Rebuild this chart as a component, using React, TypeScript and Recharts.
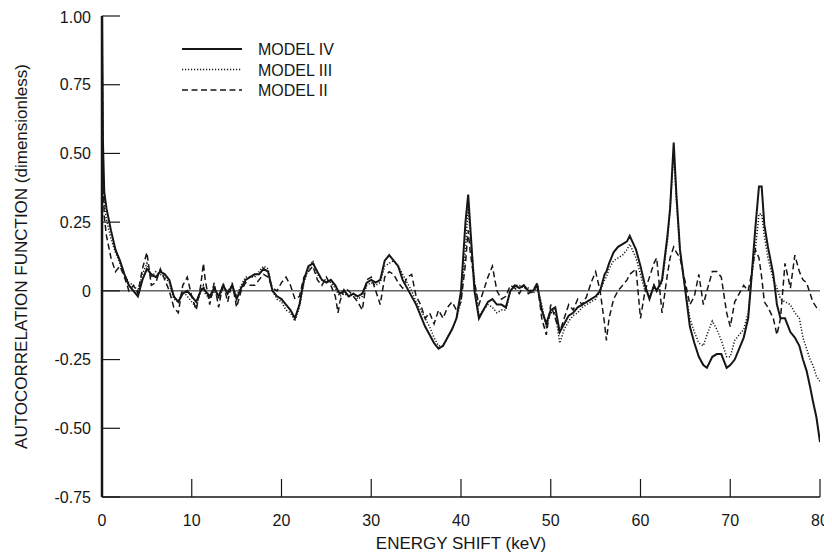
import React from "react";
import { LineChart, Line, XAxis, YAxis, ReferenceLine } from "recharts";

// ---- data ----
const energy = [
  0, 0.1, 0.25, 0.5, 1, 1.5, 2, 2.5, 3, 3.5, 4, 4.5, 5, 5.5, 6, 6.5, 7, 7.5, 8, 8.5, 9, 9.5,
  10, 10.5, 11, 11.3, 11.5, 12, 12.5, 13, 13.5, 14, 14.5, 15, 15.5, 16, 16.5, 17, 17.5, 18, 18.5, 19, 19.5,
  20, 20.5, 21, 21.5, 22, 22.5, 23, 23.5, 24, 24.5, 25, 25.5, 26, 26.3, 26.5, 27, 27.5, 28, 28.5, 29, 29.5,
  30, 30.5, 31, 31.5, 32, 32.5, 33, 33.5, 34, 34.5, 35, 35.5, 36, 36.5, 37, 37.5, 38, 38.5, 39, 39.5,
  40, 40.5, 40.8, 41, 41.5, 42, 42.5, 43, 43.5, 44, 44.5, 45, 45.5, 46, 46.5, 47, 47.5, 48, 48.5, 49, 49.5,
  50, 50.5, 51, 51.5, 52, 52.5, 53, 53.5, 54, 54.5, 55, 55.5, 56, 56.2, 56.5, 57, 57.5, 58, 58.5, 58.8, 59.5,
  60, 60.5, 61, 61.5, 61.8, 62.4, 63, 63.3, 63.7, 64, 64.4, 65, 65.5, 66, 66.5, 67, 67.4, 68, 68.5, 69, 69.6,
  70, 70.5, 71, 71.5, 72, 72.3, 72.8, 73.2, 73.5, 73.8, 74.2, 74.8, 75.2, 75.6, 76.1, 76.7, 77.2, 77.7, 78.1,
  78.5, 78.9, 79.2, 79.6, 80,
];

const modelIV = [
  1.0, 0.55, 0.36, 0.3, 0.22, 0.15, 0.11, 0.06, 0.02, 0.0, -0.02, 0.04, 0.08, 0.06, 0.05, 0.07, 0.06, 0.04, -0.02, -0.04, -0.01, 0.0,
  -0.02, -0.04, 0.0, 0.01, 0.0, -0.02, 0.01, -0.02, 0.02, -0.01, 0.02, -0.03, 0.01, 0.04, 0.05, 0.06, 0.06, 0.08, 0.07, 0.0, -0.02,
  -0.03, -0.05, -0.07, -0.1, -0.05, 0.04, 0.09, 0.1, 0.07, 0.04, 0.03, 0.04, 0.02, 0.0, -0.01, 0.0, -0.02, -0.01, -0.02, -0.01, 0.03,
  0.04, 0.03, 0.04, 0.11, 0.13, 0.11, 0.09, 0.04, 0.01, -0.02, -0.05, -0.09, -0.13, -0.16, -0.19, -0.21, -0.2, -0.17, -0.14, -0.1,
  0.0, 0.25, 0.35, 0.25, 0.0, -0.1, -0.07, -0.04, -0.03, -0.05, -0.05, -0.06, 0.0, 0.02, 0.01, 0.02, 0.0, 0.0, 0.02, -0.07, -0.12,
  -0.07, -0.06, -0.15, -0.12, -0.09, -0.08, -0.06, -0.05, -0.04, -0.03, -0.02, 0.0, 0.06, 0.07, 0.1, 0.14, 0.16, 0.17, 0.18, 0.2, 0.15,
  0.09, 0.02, -0.03, 0.02, 0.0, 0.04, 0.2, 0.3, 0.54, 0.35, 0.15, 0.0, -0.13, -0.19, -0.24, -0.27, -0.28, -0.24, -0.23, -0.23, -0.28,
  -0.27, -0.25, -0.21, -0.17, -0.1, 0.02, 0.23, 0.38, 0.38, 0.24, 0.16, 0.06, -0.05, -0.1, -0.1, -0.15, -0.17, -0.2, -0.25,
  -0.29, -0.35, -0.4, -0.46, -0.55,
];

const modelIII = [
  1.0, 0.5, 0.31, 0.26, 0.19, 0.14, 0.1, 0.06, 0.03, 0.02, 0.0, 0.06, 0.1, 0.05, 0.07, 0.06, 0.05, 0.03, -0.03, -0.04, 0.0, -0.02,
  -0.04, -0.06, 0.0, 0.02, -0.01, -0.03, 0.0, -0.03, 0.01, 0.0, 0.02, -0.02, 0.02, 0.05, 0.05, 0.05, 0.07, 0.09, 0.08, 0.0, -0.03,
  -0.04, -0.07, -0.08, -0.11, -0.06, 0.03, 0.08, 0.11, 0.06, 0.04, 0.04, 0.03, 0.01, -0.01, -0.02, -0.01, -0.02, -0.01, -0.03, -0.02, 0.02,
  0.03, 0.02, 0.03, 0.09, 0.1, 0.11, 0.09, 0.06, 0.03, 0.0, -0.04, -0.07, -0.1, -0.13, -0.17, -0.2, -0.2, -0.17, -0.14, -0.1,
  -0.04, 0.16, 0.3, 0.22, 0.04, -0.09, -0.07, -0.05, -0.06, -0.08, -0.07, -0.07, 0.0, 0.02, 0.02, 0.01, 0.01, -0.01, 0.01, -0.05, -0.13,
  -0.08, -0.08, -0.19, -0.14, -0.11, -0.09, -0.08, -0.06, -0.05, -0.04, -0.03, 0.0, 0.04, 0.05, 0.08, 0.11, 0.12, 0.13, 0.15, 0.17, 0.12,
  0.06, 0.0, -0.02, 0.02, 0.0, 0.03, 0.18, 0.3, 0.5, 0.33, 0.14, 0.0, -0.1, -0.15, -0.19, -0.2, -0.16, -0.11, -0.14, -0.18, -0.24,
  -0.24, -0.18, -0.16, -0.14, -0.08, 0.03, 0.15, 0.28, 0.28, 0.2, 0.12, 0.04, 0.01, -0.03, -0.04, -0.05, -0.08, -0.1, -0.17,
  -0.21, -0.25, -0.27, -0.31, -0.33,
];

const modelII = [
  1.0, 0.45, 0.27, 0.2, 0.12, 0.07, 0.09, 0.05, 0.0, 0.02, -0.01, 0.08, 0.14, 0.02, 0.03, 0.08, 0.04, 0.0, -0.06, -0.08, 0.02, 0.05,
  -0.02, -0.07, 0.02, 0.1, 0.04, -0.05, 0.03, -0.06, 0.03, -0.04, 0.03, -0.06, 0.0, 0.03, 0.02, 0.02, 0.04, 0.06, 0.05, 0.01, 0.0,
  0.03, 0.05, 0.02, -0.03, -0.02, 0.05, 0.07, 0.09, 0.04, 0.02, 0.05, 0.02, -0.02, -0.08, -0.04, 0.01, 0.0, -0.02, -0.04, -0.07, 0.04,
  0.05, 0.0, -0.05, 0.05, 0.07, 0.06, 0.03, 0.01, 0.05, 0.06, -0.02, -0.05, -0.1, -0.08, -0.12, -0.07, -0.1, -0.06, -0.04, -0.07,
  -0.04, 0.1, 0.22, 0.15, 0.03, -0.05, 0.0, 0.05, 0.09, 0.0, -0.03, -0.02, 0.02, 0.01, -0.01, 0.02, -0.01, 0.0, 0.03, -0.1, -0.16,
  -0.05, -0.1, -0.15, -0.1, -0.05, -0.07, -0.03, -0.05, -0.02, 0.03, 0.07, 0.0, -0.12, -0.18, -0.1, -0.03, 0.0, 0.02, 0.04, 0.06, 0.08,
  -0.1, 0.0, 0.05, 0.1, 0.12, -0.08, 0.06, 0.12, 0.16, 0.14, 0.12, 0.03, -0.05, -0.02, 0.06, -0.05, 0.0, 0.07, 0.07, 0.05, -0.08,
  -0.13, -0.04, -0.01, 0.02, 0.0, 0.05, 0.15, 0.12, 0.05, -0.04, -0.06, -0.1, -0.16, -0.1, 0.1, 0.01, 0.13, 0.07, 0.04,
  0.03, -0.01, -0.04, -0.06, -0.07,
];

const xTicks = [0, 10, 20, 30, 40, 50, 60, 70, 80];
const yTicks = [-0.75, -0.5, -0.25, 0, 0.25, 0.5, 0.75, 1.0];
const yTickLabels = ["-0.75", "-0.50", "-0.25", "0", "0.25", "0.50", "0.75", "1.00"];

const seriesNames = ["MODEL IV", "MODEL III", "MODEL II"];
const xTitle = "ENERGY SHIFT (keV)";
const yTitle = "AUTOCORRELATION FUNCTION (dimensionless)";

const data = energy.map((x, i) => ({
  x,
  iv: modelIV[i],
  iii: modelIII[i],
  ii: modelII[i],
}));

const FONT = "'Liberation Sans', Arial, Helvetica, sans-serif";
const INK = "#161616";

const seriesStyle = [
  { key: "iv", width: 2, dash: undefined as string | undefined },
  { key: "iii", width: 1.5, dash: "1.2 1.8" },
  { key: "ii", width: 1.5, dash: "6 3.5" },
];

const YTitle = (props: any) => {
  const vb = props.viewBox || { x: 0, y: 0, width: 0, height: 0 };
  const cx = vb.x + 13;
  const cy = vb.y + vb.height / 2;
  return (
    <text
      x={cx}
      y={cy}
      transform={`rotate(-90, ${cx}, ${cy})`}
      textAnchor="middle"
      dominantBaseline="central"
      fontFamily={FONT}
      fontSize={17}
      fill={INK}
    >
      {yTitle}
    </text>
  );
};

const XTitle = (props: any) => {
  const vb = props.viewBox || { x: 0, y: 0, width: 0, height: 0 };
  return (
    <text
      x={vb.x + vb.width / 2}
      y={vb.y + 52}
      textAnchor="middle"
      fontFamily={FONT}
      fontSize={17}
      fill={INK}
    >
      {xTitle}
    </text>
  );
};

const LegendBox = () => (
  <svg
    width={200}
    height={80}
    style={{ position: "absolute", left: 166, top: 22, overflow: "visible" }}
  >
    {seriesNames.map((name, i) => {
      const cy = 19 + i * 20.5;
      const s = seriesStyle[i];
      return (
        <g key={name}>
          <line
            x1={8}
            x2={68}
            y1={cy}
            y2={cy}
            stroke={INK}
            strokeWidth={s.width}
            strokeDasharray={s.dash}
          />
          <text x={84} y={cy + 6} fontFamily={FONT} fontSize={16} fill={INK}>
            {name}
          </text>
        </g>
      );
    })}
  </svg>
);

export default function App() {
  return (
    <div style={{ position: "relative", width: 824, height: 546 }}>
      <LineChart
        width={824}
        height={546}
        data={data}
        margin={{ top: 8, right: 12, bottom: 0, left: 0 }}
      >
        <XAxis
          dataKey="x"
          type="number"
          domain={[0, 80]}
          ticks={xTicks}
          allowDataOverflow
          height={57}
          tickSize={-18}
          tickMargin={36}
          axisLine={{ stroke: INK, strokeWidth: 1.5 }}
          tickLine={{ stroke: INK, strokeWidth: 1.2 }}
          tick={{ fontFamily: FONT, fontSize: 16, fill: INK }}
          label={<XTitle />}
        />
        <XAxis
          xAxisId="top"
          dataKey="x"
          type="number"
          orientation="top"
          domain={[0, 80]}
          ticks={xTicks}
          height={0}
          tickSize={-17}
          tick={false}
          axisLine={{ stroke: INK, strokeWidth: 1.5 }}
          tickLine={{ stroke: INK, strokeWidth: 1.2 }}
        />
        <YAxis
          type="number"
          domain={[-0.75, 1]}
          ticks={yTicks}
          allowDataOverflow
          width={94}
          tickSize={-18}
          tickMargin={29}
          tickFormatter={(v: number) => yTickLabels[yTicks.indexOf(v)] ?? String(v)}
          axisLine={{ stroke: INK, strokeWidth: 2.5 }}
          tickLine={{ stroke: INK, strokeWidth: 1.2 }}
          tick={{ fontFamily: FONT, fontSize: 16, fill: INK }}
          label={<YTitle />}
        />
        <YAxis
          yAxisId="right"
          type="number"
          orientation="right"
          domain={[-0.75, 1]}
          ticks={yTicks}
          width={0}
          tickSize={-18}
          tick={false}
          axisLine={{ stroke: INK, strokeWidth: 2 }}
          tickLine={{ stroke: INK, strokeWidth: 1.2 }}
        />
        <ReferenceLine y={0} stroke={INK} strokeWidth={1} />
        {seriesStyle.map((s, i) => (
          <Line
            key={s.key}
            dataKey={s.key}
            name={seriesNames[i]}
            type="linear"
            stroke={INK}
            strokeWidth={s.width}
            strokeDasharray={s.dash}
            dot={false}
            activeDot={false}
            isAnimationActive={false}
          />
        ))}
      </LineChart>
      <LegendBox />
    </div>
  );
}
